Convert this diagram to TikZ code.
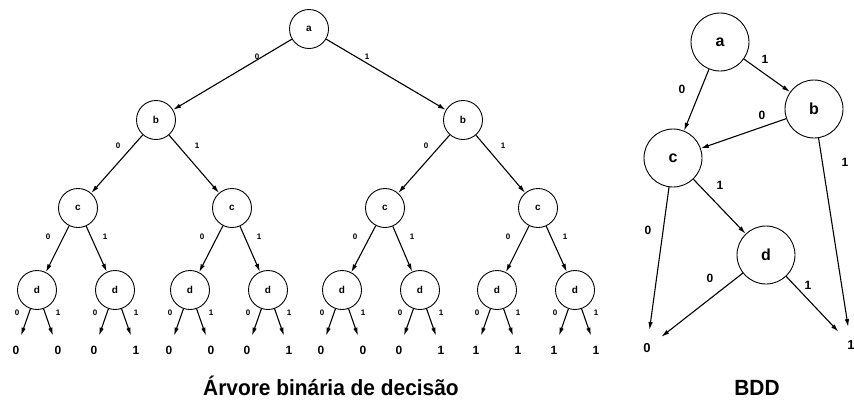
\documentclass[tikz,border=0pt]{standalone}
\usepackage{fontspec}
\setmainfont{Liberation Sans}
\usetikzlibrary{arrows.meta}
\begin{document}
\begin{tikzpicture}[x=1pt,y=-1pt,
  treenode/.style={circle,draw=black,line width=0.9pt,minimum size=39pt,inner sep=0pt,font=\bfseries\fontsize{10}{10}\selectfont},
  bddnode/.style={circle,draw=black,line width=0.9pt,minimum size=58pt,inner sep=0pt,font=\bfseries\fontsize{16}{16}\selectfont},
  treeleaf/.style={circle,minimum size=30pt,inner sep=0pt,font=\bfseries\fontsize{12}{12}\selectfont},
  bddleaf/.style={circle,minimum size=36pt,inner sep=0pt,font=\bfseries\fontsize{13}{13}\selectfont},
  treelbl/.style={inner sep=0pt,font=\bfseries\fontsize{8}{8}\selectfont},
  bddlbl/.style={inner sep=0pt,font=\bfseries\fontsize{12}{12}\selectfont},
  edge/.style={-{Latex[length=8pt,width=4.5pt]},line width=1.1pt},
  caption/.style={anchor=base,inner sep=0pt,font=\bfseries\fontsize{22}{22}\selectfont}]
\useasboundingbox (0,0) rectangle (854,400);

% ---- binary decision tree ----
\node[treenode] (r)  at (309,29)  {a};
\node[treenode] (b1) at (156,120) {b};
\node[treenode] (b2) at (463,120) {b};
\node[treenode] (c1) at (78,208)  {c};
\node[treenode] (c2) at (232,208) {c};
\node[treenode] (c3) at (385,208) {c};
\node[treenode] (c4) at (538,208) {c};
\foreach \i/\x in {1/37,2/115,3/190,4/268,5/342,6/420,7/497,8/575}
  \node[treenode] (d\i) at (\x,290) {d};

% leaves of the tree
\foreach \i/\x/\v in {1/16/0,2/58/0,3/94/0,4/136/1,5/169/0,6/211/0,7/247/0,8/289/1,
                      9/321/0,10/363/0,11/399/0,12/441/1,13/476/1,14/518/1,15/554/1,16/596/1}
  \node[treeleaf] (t\i) at (\x,350) {\v};

% tree edges
\draw[edge] (r) -- (b1);
\draw[edge] (r) -- (b2);
\draw[edge] (b1) -- (c1);
\draw[edge] (b1) -- (c2);
\draw[edge] (b2) -- (c3);
\draw[edge] (b2) -- (c4);
\draw[edge] (c1) -- (d1);
\draw[edge] (c1) -- (d2);
\draw[edge] (c2) -- (d3);
\draw[edge] (c2) -- (d4);
\draw[edge] (c3) -- (d5);
\draw[edge] (c3) -- (d6);
\draw[edge] (c4) -- (d7);
\draw[edge] (c4) -- (d8);
\foreach \i [evaluate=\i as \l using int(2*\i-1), evaluate=\i as \h using int(2*\i)] in {1,...,8} {
  \draw[edge] (d\i) -- (t\l);
  \draw[edge] (d\i) -- (t\h);
}

% tree edge labels
\node[treelbl] (lr0) at (257,57) {0};
\node[treelbl] (lr1) at (367,57) {1};
\node[treelbl] (lb10) at (118,146) {0};
\node[treelbl] (lb11) at (197,146) {1};
\node[treelbl] (lb20) at (426,146) {0};
\node[treelbl] (lb21) at (503,146) {1};
\foreach \i/\x in {1/78,2/232,3/385,4/538} {
  \node[treelbl] (lc\i z) at (\x-30,237) {0};
  \node[treelbl] (lc\i o) at (\x+27,237) {1};
}
\foreach \i/\x in {1/37,2/115,3/190,4/268,5/342,6/420,7/497,8/575} {
  \node[treelbl] (ld\i z) at (\x-20,313) {0};
  \node[treelbl] (ld\i o) at (\x+21,313) {1};
}

% ---- BDD ----
\node[bddnode] (A) at (720,42)  {a};
\node[bddnode] (B) at (814,109) {b};
\node[bddnode] (C) at (673,158) {c};
\node[bddnode] (D) at (766,255) {d};
\node[bddleaf] (Z0) at (647,348) {0};
\node[bddleaf] (Z1) at (851,345) {1};

\draw[edge] (A) -- (B);
\draw[edge] (A) -- (C);
\draw[edge] (B) -- (C);
\draw[edge] (B) -- (Z1);
\draw[edge] (C) -- (D);
\draw[edge] (C) -- (Z0);
\draw[edge] (D) -- (Z0);
\draw[edge] (D) -- (Z1);

\node[bddlbl] (lab) at (765,59)  {1};
\node[bddlbl] (lac) at (682,89)  {0};
\node[bddlbl] (lbc) at (762,115) {0};
\node[bddlbl] (lb1) at (845,162) {1};
\node[bddlbl] (lcd) at (720,185) {1};
\node[bddlbl] (lc0) at (648,230) {0};
\node[bddlbl] (ld0) at (710,278) {0};
\node[bddlbl] (ld1) at (808,285) {1};

% captions
\node[caption] (cap1) at (331,395) {\scalebox{0.95}[1]{Árvore binária de decisão}};
\node[caption] (cap2) at (757,395) {\scalebox{0.95}[1]{BDD}};
\end{tikzpicture}
\end{document}
